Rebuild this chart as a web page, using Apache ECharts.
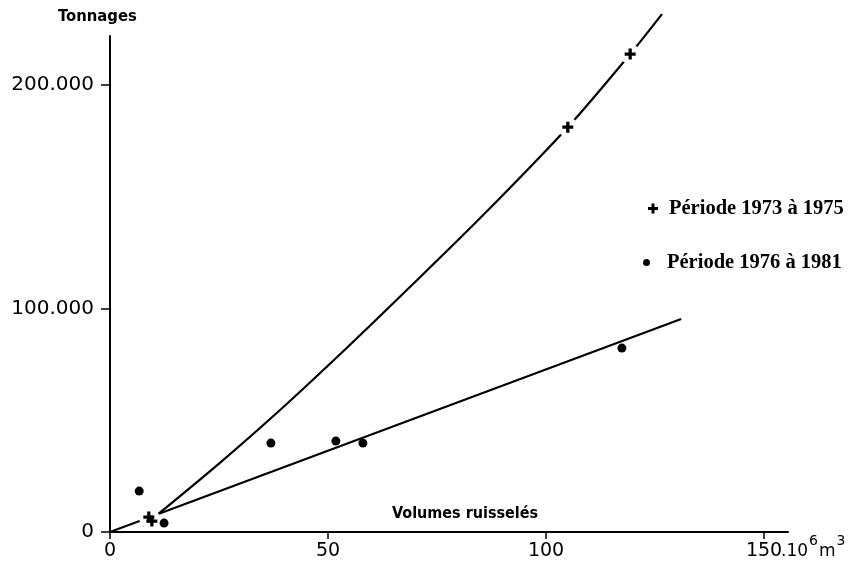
<!DOCTYPE html>
<html>
<head>
<meta charset="utf-8">
<script src="https://cdn.jsdelivr.net/npm/echarts@6/dist/echarts.min.js"></script>
<style>
  html, body { margin: 0; padding: 0; background: #fff; }
  #chart { width: 852px; height: 567px; }
</style>
</head>
<body>
<div id="chart"></div>
<script>
// Runoff volume (10^6 m3) against sediment tonnage, two periods
const seriesNames = ['Période 1973 à 1975', 'Période 1976 à 1981'];

// 1973–1975 measurements (crosses)
const volumes7375 = [8.9, 9.6, 105.0, 119.3];
const tonnages7375 = [6700, 4900, 181200, 213900];

// 1976–1981 measurements (dots)
const volumes7681 = [6.7, 12.4, 36.9, 51.8, 58.0, 117.4];
const tonnages7681 = [18300, 4000, 39800, 40700, 39800, 82300];

// fitted curve for 1973–1975
const curveVolumes = [7.6, 10.8, 25.0, 39.0, 54.4, 69.5, 84.9, 105.0, 119.3, 126.6];
const curveTonnages = [2700, 7600, 30600, 54600, 82600, 111000, 140500, 181200, 213900, 231800];

// fitted straight line for 1976–1981
const lineVolumes = [0, 131.0];
const lineTonnages = [0, 95300];

// axis ticks and labels
const xTicks = [0, 50, 100, 150];
const xTickLabels = ['0', '50', '100', '150'];
const xUnit = { base: '.10', exp: '6', unit: 'm', unitExp: '3' };
const yTicks = [0, 100000, 200000];
const yTickLabels = ['0', '100.000', '200.000'];

const zip = (xs, ys) => xs.map((x, i) => [x, ys[i]]);
const INK = '#000';
const PLUS = 'path://M3.5,0H6.5V3.5H10V6.5H6.5V10H3.5V6.5H0V3.5H3.5Z';
const tickFont = { fontFamily: 'DejaVu Sans', fontSize: 19, color: INK };

const chart = echarts.init(document.getElementById('chart'), null, { renderer: 'canvas' });

chart.setOption({
  animation: false,
  backgroundColor: '#fff',
  grid: { left: 110, right: 64, top: 36, bottom: 35, containLabel: false },
  xAxis: {
    type: 'value', min: 0, max: 155.5,
    axisLine: { show: true, onZero: false, lineStyle: { color: INK, width: 2 } },
    axisTick: { show: true, customValues: xTicks, length: 7, inside: false, lineStyle: { color: INK, width: 1.5 } },
    axisLabel: Object.assign({
      customValues: xTicks, margin: 10,
      formatter: v => xTickLabels[xTicks.indexOf(v)] ?? ''
    }, tickFont),
    splitLine: { show: false }
  },
  yAxis: {
    type: 'value', min: 0, max: 222000,
    axisLine: { show: true, onZero: false, lineStyle: { color: INK, width: 2 } },
    axisTick: { show: true, customValues: yTicks, length: 9, inside: false, lineStyle: { color: INK, width: 1.5 } },
    axisLabel: Object.assign({
      customValues: yTicks, margin: 16,
      formatter: v => yTickLabels[yTicks.indexOf(v)] ?? ''
    }, tickFont, { fontSize: 20 }),
    splitLine: { show: false }
  },
  legend: [
    {
      data: [seriesNames[0]], orient: 'vertical', left: 643, top: 193,
      itemWidth: 10, itemHeight: 10, selectedMode: false,
      textStyle: { fontFamily: 'Liberation Serif', fontWeight: 'bold', fontSize: 20.5, color: INK, padding: [0, 0, 0, 6] }
    },
    {
      data: [seriesNames[1]], orient: 'vertical', left: 638, top: 247,
      itemWidth: 7, itemHeight: 7, icon: 'circle', selectedMode: false,
      textStyle: { fontFamily: 'Liberation Serif', fontWeight: 'bold', fontSize: 20.5, color: INK, padding: [0, 0, 6, 12] }
    }
  ],
  graphic: [
    {
      type: 'text', left: 58, top: 8, silent: true,
      style: { text: 'Tonnages', font: 'bold 16.5px "DejaVu Sans Condensed"', fill: INK }
    },
    {
      type: 'text', left: 392, top: 506, silent: true,
      style: { text: 'Volumes ruisselés', font: 'bold 16px "DejaVu Sans Condensed"', fill: INK }
    },
    {
      type: 'text', left: 781, top: 534, silent: true,
      style: {
        text: '{b|' + xUnit.base + '}{s|' + xUnit.exp + '}{b|' + xUnit.unit + '}{s|' + xUnit.unitExp + '}',
        rich: {
          b: { fontFamily: 'DejaVu Sans', fontSize: 17, fill: INK, padding: [11, 0, 0, 0] },
          s: { fontFamily: 'DejaVu Sans', fontSize: 14, fill: INK, padding: [0, 1, 10, 1] }
        }
      }
    }
  ],
  series: [
    {
      name: 'curve7375', type: 'line', data: zip(curveVolumes, curveTonnages),
      showSymbol: false, smooth: 0.3, clip: false, silent: true, z: 2,
      lineStyle: { color: INK, width: 2.2 }
    },
    {
      name: 'line7681', type: 'line', data: zip(lineVolumes, lineTonnages),
      showSymbol: false, smooth: false, clip: false, silent: true, z: 2,
      lineStyle: { color: INK, width: 2.2 }
    },
    {
      // white clearing behind each cross so the fitted lines break around it
      name: 'clear7375', type: 'scatter', data: zip(volumes7375, tonnages7375),
      symbol: 'circle', symbolSize: 20, silent: true, z: 3,
      itemStyle: { color: '#fff', opacity: 1 }
    },
    {
      name: seriesNames[0], type: 'scatter', data: zip(volumes7375, tonnages7375),
      symbol: PLUS, symbolSize: 11, z: 4,
      itemStyle: { color: INK, opacity: 1 }
    },
    {
      name: seriesNames[1], type: 'scatter', data: zip(volumes7681, tonnages7681),
      symbol: 'circle', symbolSize: 9, z: 4,
      itemStyle: { color: INK, opacity: 1 }
    }
  ]
});
</script>
</body>
</html>
